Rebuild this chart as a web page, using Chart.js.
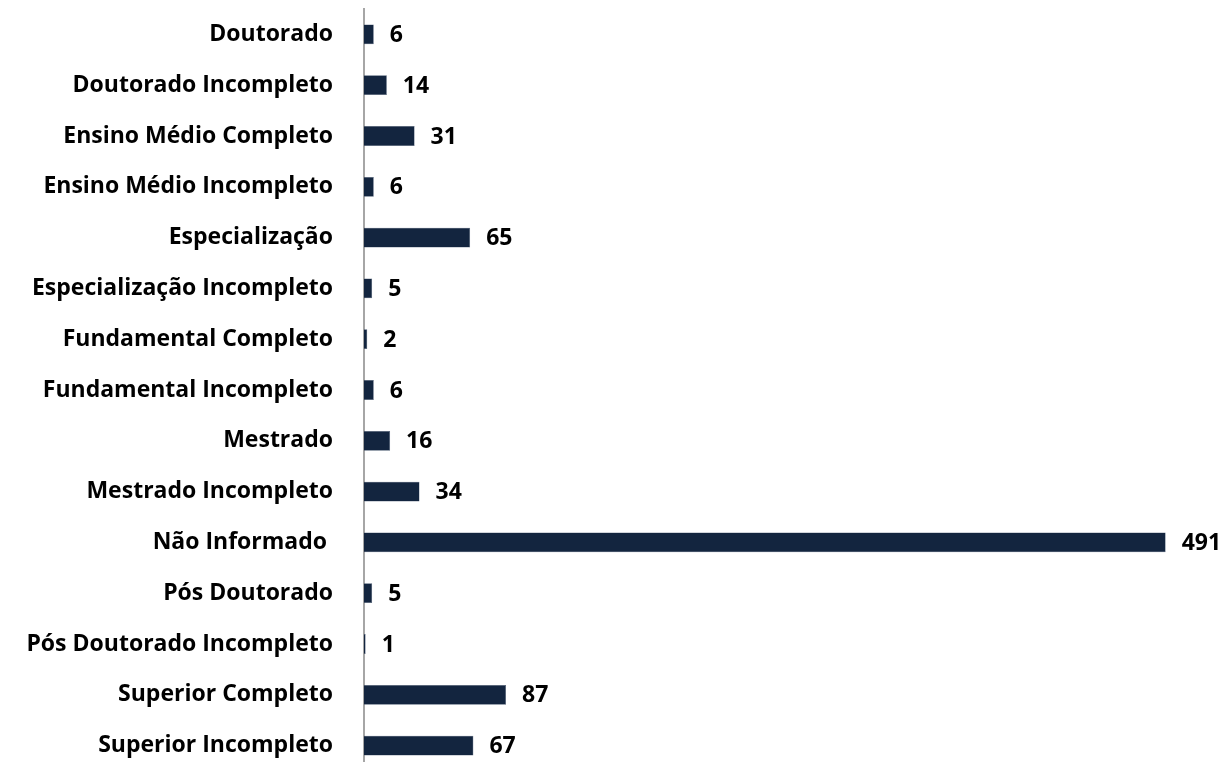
<!DOCTYPE html>
<html>
<head>
<meta charset="utf-8">
<script src="https://cdn.jsdelivr.net/npm/chart.js@4"></script>
<style>
  html, body { margin: 0; padding: 0; background: #fff; overflow: hidden; }
  canvas { display: block; }
</style>
</head>
<body>
<canvas id="chart" width="1230" height="771"></canvas>
<script>
const categories = [
  "Doutorado", "Doutorado Incompleto", "Ensino Médio Completo", "Ensino Médio Incompleto",
  "Especialização", "Especialização Incompleto", "Fundamental Completo", "Fundamental Incompleto",
  "Mestrado", "Mestrado Incompleto", "Não Informado ", "Pós Doutorado",
  "Pós Doutorado Incompleto", "Superior Completo", "Superior Incompleto"
];
const counts = [6, 14, 31, 6, 65, 5, 2, 6, 16, 34, 491, 5, 1, 87, 67];

const labelFont = { family: "'Open Sans', sans-serif", size: 23, weight: "bold" };

// Draw the value to the right of each bar
const valueLabels = {
  id: "valueLabels",
  afterDatasetsDraw(chart) {
    const ctx = chart.ctx;
    const meta = chart.getDatasetMeta(0);
    ctx.save();
    ctx.font = `bold ${labelFont.size}px ${labelFont.family}`;
    ctx.fillStyle = "#000";
    ctx.textAlign = "left";
    ctx.textBaseline = "middle";
    meta.data.forEach((bar, i) => {
      ctx.fillText(String(counts[i]), bar.x + 16, bar.y + 1);
    });
    ctx.restore();
  }
};

new Chart(document.getElementById("chart"), {
  type: "bar",
  data: {
    labels: categories,
    datasets: [{
      data: counts,
      backgroundColor: "#13253f",
      borderColor: "#4a5a72",
      borderWidth: 0.5,
      barPercentage: 0.39,
      categoryPercentage: 1
    }]
  },
  options: {
    indexAxis: "y",
    responsive: false,
    animation: false,
    layout: { padding: { top: 9, right: 17, left: 0, bottom: 0 } },
    plugins: { legend: { display: false }, tooltip: { enabled: false } },
    scales: {
      x: {
        display: false,
        min: 0,
        max: 520,
        grid: { display: false }
      },
      y: {
        afterFit(scale) {
          scale.width = 364;
          // tick padding should not push the plot down
          scale.paddingTop = 0;
          scale.paddingBottom = 0;
        },
        grid: { display: false, drawTicks: false },
        border: { display: true, color: "#a6a6a6", width: 2 },
        ticks: { color: "#000", font: labelFont, padding: 31 }
      }
    }
  },
  plugins: [valueLabels]
});
</script>
</body>
</html>
